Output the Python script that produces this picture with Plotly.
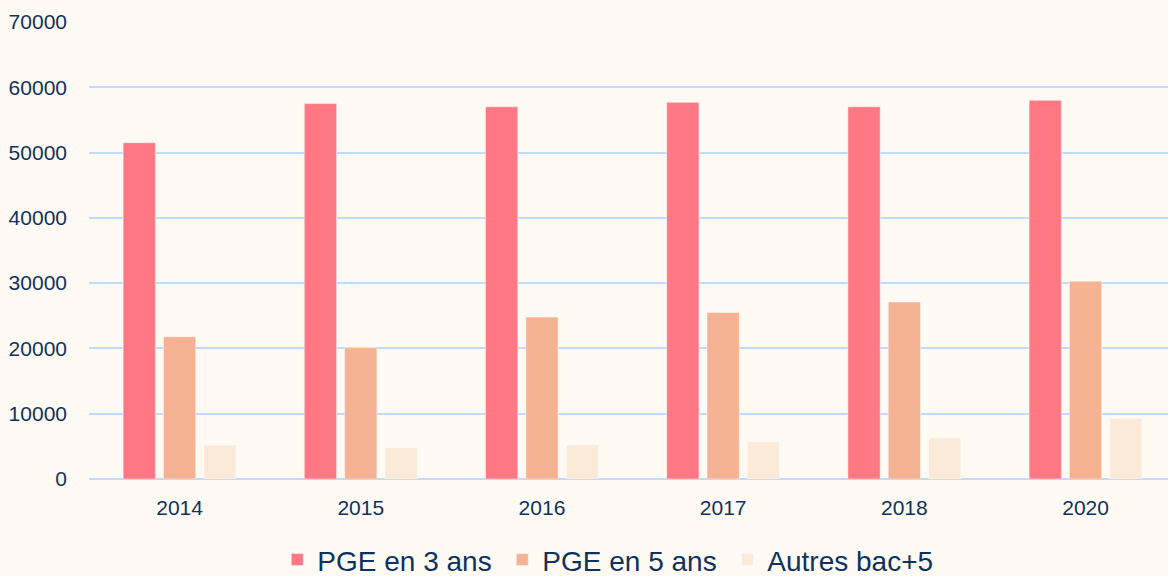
import plotly.graph_objects as go

years = ["2014", "2015", "2016", "2017", "2018", "2020"]
pge_3_ans = [51500, 57500, 57000, 57700, 57000, 58000]
pge_5_ans = [21800, 20100, 24800, 25500, 27100, 30300]
autres_bac5 = [5200, 4800, 5250, 5700, 6300, 9300]

series_names = ["PGE en 3 ans", "PGE en 5 ans", "Autres bac+5"]
series_colors = ["#FF7884", "#F5B393", "#FCEAD8"]
series_values = [pge_3_ans, pge_5_ans, autres_bac5]

TEXT = "#0C335F"
BG = "#FFFBF4"
GRID = "#C0DCFA"
FONT = "Liberation Sans, Arial, sans-serif"

fig = go.Figure()
for name, color, vals in zip(series_names, series_colors, series_values):
    fig.add_trace(go.Bar(
        x=years, y=vals, name=name,
        marker=dict(color=color, line=dict(color="rgba(255,255,255,0.45)", width=1)),
    ))

fig.update_layout(
    width=1168, height=576,
    margin=dict(l=89, r=0, t=22, b=97, autoexpand=False),
    paper_bgcolor=BG, plot_bgcolor=BG,
    barmode="group", bargap=0.332, bargroupgap=0.2,
    font=dict(family=FONT, color=TEXT, size=21),
    showlegend=True,
    legend=dict(
        orientation="h", x=0.4873, xanchor="center", y=-0.177, yanchor="middle",
        font=dict(size=28, color=TEXT, family=FONT),
        entrywidth=180, entrywidthmode="pixels",
        bgcolor="rgba(0,0,0,0)",
    ),
    xaxis=dict(
        type="category", range=[-0.5, 5.455], automargin=False,
        showgrid=False, zeroline=False, showline=False, ticks="",
        tickfont=dict(size=21, color=TEXT), ticklabelstandoff=14,
    ),
    yaxis=dict(
        range=[0, 70000], automargin=False,
        tickvals=[0, 10000, 20000, 30000, 40000, 50000, 60000, 70000],
        ticktext=["0", "10000", "20000", "30000", "40000", "50000", "60000", "70000"],
        showgrid=True, gridcolor=GRID, gridwidth=1.7,
        zeroline=True, zerolinecolor=GRID, zerolinewidth=1.7,
        showline=False, ticks="",
        tickfont=dict(size=21, color=TEXT), ticklabelstandoff=21,
    ),
)

fig.write_html(
    "out.html",
    config={"displayModeBar": False},
    post_script="document.body.style.margin='0';document.body.style.background='#FFFBF4';",
)
